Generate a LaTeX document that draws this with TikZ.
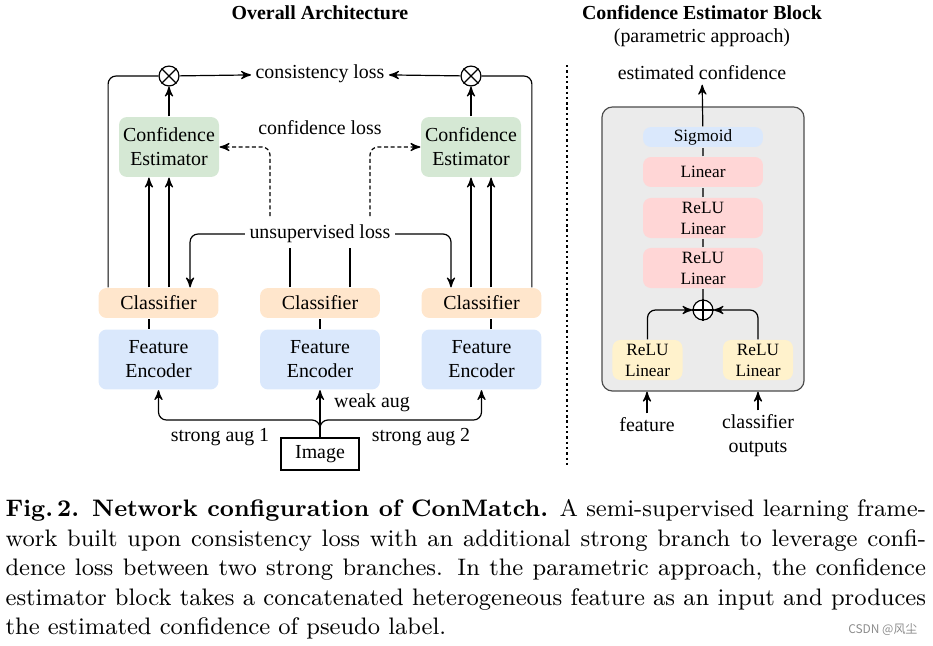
\documentclass[tikz,border=0pt]{standalone}
\usepackage{fontspec}
\newfontfamily\tms{Liberation Serif}
\newfontfamily\cjk{Noto Sans CJK SC}
\usetikzlibrary{arrows, positioning}

\definecolor{encblue}{RGB}{218,232,252}
\definecolor{clsorange}{RGB}{255,230,204}
\definecolor{cegreen}{RGB}{213,232,212}
\definecolor{linpink}{RGB}{255,214,214}
\definecolor{relyellow}{RGB}{255,242,204}
\definecolor{blkgray}{RGB}{235,235,235}

\begin{document}
\begin{tikzpicture}[>= stealth', x=0.377pt, y=-0.377pt, line width=0.45pt]
            \tikzstyle{box}=[rounded corners=3pt, inner sep=0pt, align=center, font=\tms\fontsize{7.5}{9}\selectfont]
            \tikzstyle{enc}=[box, fill=encblue, minimum width=45.2pt, minimum height=22.6pt]
            \tikzstyle{cls}=[box, fill=clsorange, minimum width=45.2pt, minimum height=11.3pt]
            \tikzstyle{est}=[box, fill=cegreen, minimum width=37.7pt, minimum height=22.6pt]
            \tikzstyle{small}=[box, font=\tms\fontsize{6.5}{7.9}\selectfont, minimum width=45.2pt]
            \tikzstyle{lbl}=[inner sep=1.5pt, align=center, font=\tms\fontsize{7.5}{9}\selectfont]
            \tikzstyle{mult}=[circle, draw, fill=white, minimum size=7.5pt, inner sep=0pt]

            \useasboundingbox (0,0) rectangle (933,645);

            % overall architecture
            \node[lbl, font=\tms\bfseries\fontsize{7.5}{9}\selectfont] at (320,13) (title1) {Overall Architecture};

            \node[enc] at (158.5,359.5) (enc1) {Feature\\Encoder};
            \node[enc] at (320,359.5) (enc2) {Feature\\Encoder};
            \node[enc] at (481.5,359.5) (enc3) {Feature\\Encoder};
            \node[cls] at (158.5,303) (cls1) {Classifier};
            \node[cls] at (320,303) (cls2) {Classifier};
            \node[cls] at (481.5,303) (cls3) {Classifier};
            \node[est] at (169,147) (ce1) {Confidence\\Estimator};
            \node[est] at (471,147) (ce2) {Confidence\\Estimator};
            \node[mult] at (169,76) (m1) {};
            \node[mult] at (471,76) (m2) {};
            \node[draw, inner sep=0pt, minimum width=29.4pt, minimum height=12.1pt, font=\tms\fontsize{7.5}{9}\selectfont] at (320,454) (img) {Image};

            \node[lbl] at (320,74) (cons) {consistency loss};
            \node[lbl] at (320,128) (conf) {confidence loss};
            \node[lbl] at (320,234) (unsup) {unsupervised loss};
            \node[lbl] at (372,403) (weak) {weak aug};
            \node[lbl] at (220,437) (str1) {strong aug 1};
            \node[lbl] at (421,437) (str2) {strong aug 2};

            \draw (m1.north west) -- (m1.south east) (m1.north east) -- (m1.south west);
            \draw (m2.north west) -- (m2.south east) (m2.north east) -- (m2.south west);

            % augmentations
            \coordinate (fork) at (320,420);
            \path (img) edge[->] (enc2);
            \draw[->, rounded corners=3pt] (img.north) -- (fork) -| (enc1.south);
            \draw[->, rounded corners=3pt] (img.north) -- (fork) -| (enc3.south);

            % features and predictions
            \draw ([xshift=-3.6pt]enc1.north) -- ([xshift=-3.6pt]cls1.south);
            \draw[->] ([xshift=-3.6pt]cls1.north) -- ([xshift=-3.6pt]cls1.north |- ce1.south);
            \draw[->] (cls1.north -| ce1.south) -- (ce1.south);
            \path (enc2) edge (cls2);
            \draw ([xshift=3.6pt]enc3.north) -- ([xshift=3.6pt]cls3.south);
            \draw[->] ([xshift=3.6pt]cls3.north) -- ([xshift=3.6pt]cls3.north |- ce2.south);
            \draw[->] (cls3.north -| ce2.south) -- (ce2.south);

            \path (ce1) edge[->] (m1);
            \path (ce2) edge[->] (m2);
            \draw[rounded corners=3pt] ([xshift=-19pt]cls1.north) |- (m1.west);
            \draw[rounded corners=3pt] ([xshift=19pt]cls3.north) |- (m2.east);
            \path (m1) edge[->] (cons);
            \path (m2) edge[->] (cons);

            % unsupervised loss
            \draw ([xshift=-11.3pt]cls2.north) -- ([xshift=-11.3pt]cls2.north |- unsup.south);
            \draw ([xshift=11.3pt]cls2.north) -- ([xshift=11.3pt]cls2.north |- unsup.south);
            \draw[->, rounded corners=3pt] (unsup.west) -| ([xshift=11.9pt]cls1.north);
            \draw[->, rounded corners=3pt] (unsup.east) -| ([xshift=-11.5pt]cls3.north);

            % confidence loss
            \coordinate (d1) at (270,216);
            \coordinate (d2) at (370,216);
            \draw[->, dash pattern=on 1.5pt off 1pt, rounded corners=3pt] (d1) |- (ce1.east);
            \draw[->, dash pattern=on 1.5pt off 1pt, rounded corners=3pt] (d2) |- (ce2.west);

            \draw[line width=0.9pt, dash pattern=on 0.9pt off 1.1pt] (567,65) -- (567,468);

            % confidence estimator block
            \node[lbl, font=\tms\bfseries\fontsize{7.5}{9}\selectfont] at (702,13) (title2) {Confidence Estimator Block};
            \node[lbl] at (702,38) (title3) {(parametric approach)};

            \node[draw=black!70, fill=blkgray, rounded corners=4pt, minimum width=76.2pt, minimum height=107.1pt] at (703,249) (blk) {};
            \node[small, fill=encblue, minimum height=7.5pt] at (703,137) (sig) {Sigmoid};
            \node[small, fill=linpink, minimum height=11.3pt] at (703,172) (lin) {Linear};
            \node[small, fill=linpink, minimum height=15.1pt] at (703,218) (rl1) {ReLU\\Linear};
            \node[small, fill=linpink, minimum height=15.1pt] at (703,268) (rl2) {ReLU\\Linear};
            \node[mult] at (703,310) (plus) {};
            \node[small, fill=relyellow, minimum width=26.4pt, minimum height=15.1pt] at (647.5,360) (y1) {ReLU\\Linear};
            \node[small, fill=relyellow, minimum width=26.4pt, minimum height=15.1pt] at (758,360) (y2) {ReLU\\Linear};
            \draw (plus.north) -- (plus.south) (plus.west) -- (plus.east);

            \node[lbl] at (702,73) (conf2) {estimated confidence};
            \node[lbl] at (647,425) (feat) {feature};
            \node[lbl] at (758,436) (outs) {classifier\\outputs};

            \path (sig) edge[->] (conf2);
            \path (lin) edge[black!70] (sig);
            \path (rl1) edge[black!70] (lin);
            \path (rl2) edge[black!70] (rl1);
            \path (plus) edge[black!70] (rl2);
            \draw[->, rounded corners=3pt] (y1.north) |- (plus.west);
            \draw[->, rounded corners=3pt] (y2.north) |- (plus.east);
            \draw[->] (feat) -- (feat |- blk.south);
            \draw[->] (outs) -- (outs |- blk.south);

            % caption
            \node[anchor=north west, inner sep=0pt, text width=347pt, align=justify, font=\fontsize{9}{11.1}\selectfont] at (5,499) (cap) {\textbf{Fig.\,2. Network configuration of ConMatch.} A semi-supervised learning frame-\linebreak work built upon consistency loss with an additional strong branch to leverage confi-\linebreak dence loss between two strong branches. In the parametric approach, the confidence\linebreak estimator block takes a concatenated heterogeneous feature as an input and produces\linebreak the estimated confidence of pseudo label.};
            \node[anchor=east, inner sep=0pt, text=black!45, font=\cjk\fontsize{4.5}{5}\selectfont] at (918,630) (mark) {CSDN @风尘};

          \end{tikzpicture}
\end{document}
